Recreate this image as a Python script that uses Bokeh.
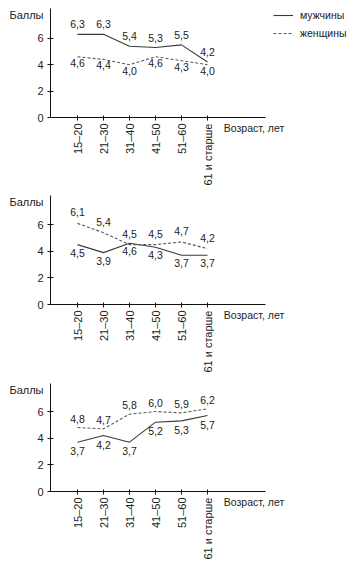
from math import pi
from bokeh.plotting import figure
from bokeh.layouts import column
from bokeh.models import Range1d, FixedTicker, Legend, LegendItem
from bokeh.core.properties import value
from bokeh.embed import file_html
from bokeh.resources import INLINE

# ---- data ----
age_groups = ["15–20", "21–30", "31–40", "41–50", "51–60", "61 и старше"]
men_1 = [6.3, 6.3, 5.4, 5.3, 5.5, 4.2]
women_1 = [4.6, 4.4, 4.0, 4.6, 4.3, 4.0]
men_2 = [4.5, 3.9, 4.6, 4.3, 3.7, 3.7]
women_2 = [6.1, 5.4, 4.5, 4.5, 4.7, 4.2]
men_3 = [3.7, 4.2, 3.7, 5.2, 5.3, 5.7]
women_3 = [4.8, 4.7, 5.8, 6.0, 5.9, 6.2]
y_ticks = [0, 2, 4, 6]
series_names = ["мужчины", "женщины"]
x_title = "Возраст, лет"
y_title = "Баллы"

FONT = "Liberation Sans"
FIG_W = 352
PX_X = 26.0                       # pixels per category step
LEFT_B = 50
X0 = -27 / PX_X                   # y axis sits 27 px left of the first category
X1 = X0 + (FIG_W - LEFT_B) / PX_X
AXIS_END = X0 + 215 / PX_X        # x axis line length
NBSP = "\u00a0"
MEN_COLOR = "#3a3a3a"
WOMEN_COLOR = "#5a5a5a"


def fmt(v):
    return f"{v:.1f}".replace(".", ",")


def make_panel(men, women, men_off, women_off, top_b, frame_h, bottom_b, px_y, legend=False):
    ymax = frame_h / px_y
    p = figure(width=FIG_W, height=top_b + frame_h + bottom_b,
               output_backend="svg", toolbar_location=None,
               x_range=Range1d(X0, X1), y_range=Range1d(0, ymax),
               min_border_left=LEFT_B, min_border_right=0,
               min_border_top=top_b, min_border_bottom=bottom_b)
    p.outline_line_color = None
    p.xgrid.visible = False
    p.ygrid.visible = False

    xs = list(range(len(age_groups)))

    xa = p.xaxis[0]
    xa.ticker = FixedTicker(ticks=xs)
    xa.major_label_overrides = {i: g for i, g in zip(xs, age_groups)}
    xa.major_label_orientation = pi / 2
    xa.bounds = (X0, AXIS_END)
    xa.minor_tick_line_color = None
    xa.major_tick_in = 2
    xa.major_tick_out = 3
    xa.major_label_standoff = 3
    xa.major_label_text_font = FONT
    xa.major_label_text_font_size = "11px"
    xa.major_label_text_color = "#222"
    xa.axis_line_color = "#111"
    xa.major_tick_line_color = "#111"
    # x title: padded with no-break spaces so it sits right of centre
    xa.axis_label = NBSP * 36 + x_title
    xa.axis_label_standoff = -67
    xa.axis_label_text_font = FONT
    xa.axis_label_text_font_size = "10.5px"
    xa.axis_label_text_font_style = "normal"
    xa.axis_label_text_color = "#222"

    # y axis; the title "Баллы" is shown as a label near the top of the axis
    title_pos = round(ymax - 6 / px_y, 2)
    ya = p.yaxis[0]
    ya.ticker = FixedTicker(ticks=y_ticks + [title_pos], minor_ticks=y_ticks)
    ya.major_label_overrides = {title_pos: y_title}
    ya.bounds = (0, ymax)
    ya.major_tick_line_color = None
    ya.major_tick_in = 3
    ya.major_tick_out = 3
    ya.minor_tick_in = 3
    ya.minor_tick_out = 3
    ya.minor_tick_line_color = "#111"
    ya.major_label_standoff = 4
    ya.major_label_text_font = FONT
    ya.major_label_text_font_size = "11px"
    ya.major_label_text_color = "#222"
    ya.axis_line_color = "#111"

    r_m = p.line(xs, men, line_color=MEN_COLOR, line_width=1.1)
    r_w = p.line(xs, women, line_color=WOMEN_COLOR, line_width=1.1, line_dash="3 2")

    p.text(xs, men, text=[fmt(v) for v in men], y_offset=men_off,
           text_align="center", text_baseline="middle",
           text_font=value(FONT), text_font_size="10.5px", text_color="#222")
    p.text(xs, women, text=[fmt(v) for v in women], y_offset=women_off,
           text_align="center", text_baseline="middle",
           text_font=value(FONT), text_font_size="10.5px", text_color="#222")

    if legend:
        lg = Legend(items=[LegendItem(label=series_names[0], renderers=[r_m]),
                           LegendItem(label=series_names[1], renderers=[r_w])],
                    location=(223, frame_h - 32), orientation="vertical",
                    padding=0, margin=0, spacing=4,
                    glyph_width=20, glyph_height=14, label_height=14,
                    label_standoff=7,
                    label_text_font=FONT, label_text_font_size="10.5px",
                    label_text_color="#222",
                    border_line_color=None, background_fill_alpha=0)
        p.add_layout(lg, "center")
    return p


p1 = make_panel(men_1, women_1, -10, 6, 8, 109, 70, 13.2, legend=True)
p2 = make_panel(men_2, women_2, 8, -11, 8, 109, 70, 13.3)
p3 = make_panel(men_3, women_3, 9, -9, 9, 108, 71, 13.33)

layout = column(p1, p2, p3, spacing=0)

open("out.html", "w").write(file_html(layout, INLINE))
